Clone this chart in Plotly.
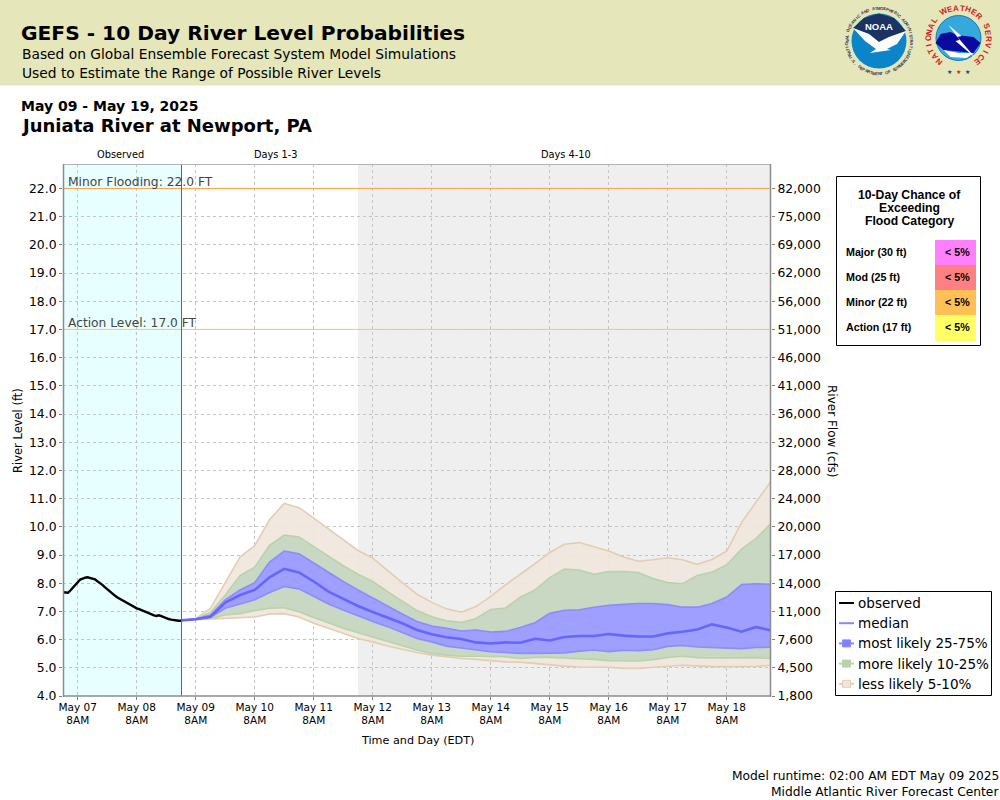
import plotly.graph_objects as go
import math
from datetime import datetime, timedelta

W, H = 1000, 800
L, R, T, B = 63, 771, 164, 696

# ---------- data ----------
obs_start = datetime(2025, 5, 7, 2)
observed = [7.68,7.66,7.66,7.74,7.84,7.95,8.06,8.13,8.16,8.20,8.21,8.19,8.17,8.14,8.07,8.02,7.94,7.86,7.78,7.70,
            7.63,7.57,7.50,7.45,7.38,7.34,7.30,7.23,7.19,7.15,7.11,7.08,7.04,7.01,6.97,6.94,6.90,6.86,6.84,6.86,
            6.83,6.79,6.76,6.73,6.71,6.69,6.68,6.67,6.67]
fc_start = datetime(2025, 5, 9, 2)
q95 = [6.68,6.74,7.11,8.00,8.93,9.33,10.25,10.83,10.68,10.31,9.92,9.54,9.16,
       8.89,8.45,8.02,7.61,7.32,7.09,6.97,7.17,7.53,7.94,8.30,8.69,9.09,9.38,9.44,9.28,
       9.14,8.93,8.78,8.83,8.90,8.83,8.67,8.84,9.14,10.15,10.89,11.62]
q90 = [6.68,6.74,6.96,7.58,8.27,8.57,9.34,9.71,9.64,9.30,8.97,8.62,8.32,
       8.06,7.70,7.35,7.03,6.81,6.67,6.61,6.75,7.07,7.12,7.50,7.76,8.20,8.50,8.47,8.32,
       8.41,8.41,8.38,8.17,8.02,7.98,8.27,8.40,8.65,9.21,9.59,10.12]
q75 = [6.68,6.74,6.87,7.41,7.76,8.02,8.75,9.14,9.04,8.71,8.38,8.06,7.76,
       7.47,7.17,6.91,6.64,6.48,6.40,6.30,6.34,6.27,6.29,6.43,6.60,6.93,7.04,7.06,7.15,
       7.22,7.25,7.28,7.28,7.24,7.15,7.15,7.28,7.51,7.95,7.98,7.96]
median = [6.68,6.72,6.81,7.31,7.58,7.76,8.21,8.51,8.38,8.06,7.70,7.43,7.19,
          6.98,6.77,6.58,6.34,6.19,6.08,6.02,5.90,5.86,5.90,5.89,6.03,5.97,6.09,6.13,6.13,
          6.20,6.14,6.11,6.11,6.22,6.28,6.36,6.54,6.43,6.28,6.45,6.32]
q25 = [6.68,6.72,6.79,7.11,7.26,7.41,7.67,7.88,7.80,7.53,7.26,7.05,6.84,
       6.64,6.46,6.26,6.04,5.92,5.77,5.70,5.63,5.57,5.54,5.51,5.51,5.51,5.53,5.59,5.63,
       5.57,5.62,5.61,5.64,5.76,5.79,5.74,5.72,5.72,5.68,5.72,5.73]
q10 = [6.68,6.72,6.75,6.87,6.92,7.03,7.11,7.13,6.99,6.78,6.58,6.40,6.24,
       6.08,5.92,5.78,5.63,5.51,5.45,5.41,5.41,5.41,5.39,5.33,5.37,5.37,5.35,5.32,5.30,
       5.25,5.24,5.24,5.29,5.37,5.41,5.36,5.35,5.35,5.36,5.36,5.33]
q05 = [6.68,6.70,6.73,6.75,6.78,6.80,6.91,6.92,6.80,6.58,6.40,6.22,6.04,
       5.92,5.77,5.66,5.54,5.45,5.39,5.33,5.30,5.25,5.21,5.20,5.15,5.12,5.06,5.03,5.03,
       5.02,4.98,4.98,5.02,5.05,5.09,5.07,5.04,5.04,5.05,5.05,5.09]

stage_ticks = [float(v) for v in range(4, 23)]
flow_labels = ["1,800","4,500","7,600","11,000","14,000","17,000","20,000","24,000","28,000","32,000",
               "36,000","41,000","46,000","51,000","56,000","62,000","69,000","75,000","82,000"]
day_labels = ["May 07","May 08","May 09","May 10","May 11","May 12","May 13","May 14","May 15","May 16","May 17","May 18"]
day_ticks = [datetime(2025, 5, 7 + i, 8) for i in range(12)]
table_rows = [("Major (30 ft)", "< 5%", "#FF80FF"), ("Mod (25 ft)", "< 5%", "#FF8080"),
              ("Minor (22 ft)", "< 5%", "#FFC055"), ("Action (17 ft)", "< 5%", "#FFFF66")]
legend_rows = ["observed", "median", "most likely 25-75%", "more likely 10-25%", "less likely 5-10%"]

# ---------- helpers ----------
def px(x): return (x - L) / (R - L)
def py(y): return (B - y) / (B - T)
Y0 = 4.0
Y1 = 4.0 + (B - T) / 28.2
x0 = datetime(2025, 5, 7, 2)
x1 = datetime(2025, 5, 19, 2)
split = datetime(2025, 5, 9, 2)
grey = datetime(2025, 5, 12, 2)

fc_x = [fc_start + timedelta(hours=6 * i) for i in range(len(median))]
obs_x = [obs_start + timedelta(hours=i) for i in range(len(observed))]

fig = go.Figure()
def band(lo, hi, line, fill, name):
    fig.add_trace(go.Scatter(x=fc_x, y=lo, mode="lines", line=dict(color=line, width=1.6), showlegend=False, hoverinfo="skip"))
    fig.add_trace(go.Scatter(x=fc_x, y=hi, mode="lines", line=dict(color=line, width=1.6), fill="tonexty", fillcolor=fill,
                             name=name, showlegend=False))
band(q05, q95, "#E3CDB2", "rgba(240,231,220,0.9)", legend_rows[4])
band(q10, q90, "#BAD2AC", "#C9D8C2", legend_rows[3])
band(q25, q75, "#8C8CFF", "#9F9FFF", legend_rows[2])
fig.add_trace(go.Scatter(x=fc_x, y=median, mode="lines", line=dict(color="#6666FF", width=2.6), name=legend_rows[1], showlegend=False))
fig.add_trace(go.Scatter(x=obs_x, y=observed, mode="lines", line=dict(color="black", width=2.4), name=legend_rows[0], showlegend=False))
# carries the flow axis on the right
fig.add_trace(go.Scatter(x=[x0], y=[stage_ticks[0]], yaxis="y2", mode="markers", marker=dict(opacity=0), showlegend=False, hoverinfo="skip"))

shapes = []
annos = []
def text(x, y, s, size=12, color="black", anchor="left", family="DejaVu Sans", bold=False, angle=0):
    annos.append(dict(xref="paper", yref="paper", x=px(x), y=py(y), text=f"<b>{s}</b>" if bold else s, showarrow=False,
                      xanchor=anchor, yanchor="middle", align=anchor, textangle=angle,
                      font=dict(family=family, size=size, color=color), borderpad=0))
def rect(x0_, y0_, x1_, y1_, fill="rgba(0,0,0,0)", line=None, lw=1, layer="above"):
    shapes.append(dict(type="rect", xref="paper", yref="paper", x0=px(x0_), x1=px(x1_), y0=py(y0_), y1=py(y1_),
                       fillcolor=fill, line=dict(color=line or "rgba(0,0,0,0)", width=lw if line else 0), layer=layer))
def seg(x0_, y0_, x1_, y1_, color, lw=1):
    shapes.append(dict(type="line", xref="paper", yref="paper", x0=px(x0_), x1=px(x1_), y0=py(y0_), y1=py(y1_),
                       line=dict(color=color, width=lw)))
def circ(cx, cy, r, fill, line=None, lw=1):
    shapes.append(dict(type="circle", xref="paper", yref="paper", x0=px(cx - r), x1=px(cx + r), y0=py(cy - r), y1=py(cy + r),
                       fillcolor=fill, line=dict(color=line or "rgba(0,0,0,0)", width=lw if line else 0)))
def path(pts, fill, line=None, lw=1):
    d = "M " + " L ".join(f"{px(a):.5f},{py(b):.5f}" for a, b in pts) + " Z"
    shapes.append(dict(type="path", xref="paper", yref="paper", path=d, fillcolor=fill,
                       line=dict(color=line or "rgba(0,0,0,0)", width=lw if line else 0)))

# header band
rect(0, 0, W, 85.5, fill="#E5E6B9", layer="below")
text(20, 33, "GEFS - 10 Day River Level Probabilities", size=20.2, bold=True)
text(20.5, 54, "Based on Global Ensemble Forecast System Model Simulations", size=13.8)
text(20.5, 73, "Used to Estimate the Range of Possible River Levels", size=13.8)
text(20, 105.5, "May 09 - May 19, 2025", size=14, bold=True)
text(20, 125.5, "Juniata River at Newport, PA", size=18, bold=True)
text(120, 154, "Observed", size=9.8, anchor="center")
text(276, 154, "Days 1-3", size=9.8, anchor="center")
text(566, 154, "Days 4-10", size=9.8, anchor="center")
text(417, 740, "Time and Day (EDT)", size=11.2, anchor="center")
text(18, 431, "River Level (ft)", size=11.5, anchor="center", angle=-90)
text(832, 431, "River Flow (cfs)", size=12, anchor="center", angle=90)
text(1000.5, 775.5, "Model runtime: 02:00 AM EDT May 09 2025", size=12.25, anchor="right")
text(1000.5, 791.5, "Middle Atlantic River Forecast Center", size=12.25, anchor="right")

# shaded periods and level lines (data-scale)
shapes.append(dict(type="rect", xref="x", yref="paper", x0=x0, x1=split, y0=0, y1=1, fillcolor="#E8FFFF", line=dict(width=0), layer="below"))
shapes.append(dict(type="rect", xref="x", yref="paper", x0=grey, x1=x1, y0=0, y1=1, fillcolor="#EFEFEF", line=dict(width=0), layer="below"))
shapes.append(dict(type="line", xref="paper", yref="y", x0=0, x1=1, y0=22, y1=22, line=dict(color="#FFA040", width=1)))
shapes.append(dict(type="line", xref="paper", yref="y", x0=0, x1=1, y0=17, y1=17, line=dict(color="#FFCC44", width=1)))
seg(181.5, T, 181.5, B, "#FF2020", 1)
text(67, 181.5, "Minor Flooding: 22.0 FT", size=12.3, color="#444444")
text(67, 322.5, "Action Level: 17.0 FT", size=12.25, color="#444444")

# plot frame
seg(L, T + 0.5, R, T + 0.5, "#B4B4B4", 1)
seg(L + 0.5, T, L + 0.5, B + 1, "#8C8C8C", 1.5)
seg(R - 0.5, T, R - 0.5, B + 1, "#8C8C8C", 1.5)
seg(L, B, R, B, "#8C8C8C", 1.5)

# flood category table
rect(836.5, 176.5, 980.5, 345.5, fill="white", line="black", lw=1)
text(909.5, 195, "10-Day Chance of", size=12.2, anchor="center", family="Liberation Sans", bold=True)
text(909.5, 208, "Exceeding", size=12.2, anchor="center", family="Liberation Sans", bold=True)
text(909.5, 221, "Flood Category", size=12.2, anchor="center", family="Liberation Sans", bold=True)
for i, (lab, val, col) in enumerate(table_rows):
    top = 240 + 25 * i
    rect(935, top, 976, top + 25 + (1 if i == 3 else 0), fill=col)
    text(845, top + 11.5, lab, size=10.7, family="Liberation Sans", bold=True)
    text(970.5, top + 11.5, val, size=10.7, anchor="right", family="Liberation Sans", bold=True)

# legend
rect(835.5, 591.5, 991.5, 695.5, fill="white", line="black", lw=1)
leg_cols = [("black", None), ("#8888FF", None), ("#8888FF", "#8888FF"), ("#BAD2AC", "#BAD2AC"), ("#E3CDB2", "#F0E7DC")]
for i, (lab, (lc, fc)) in enumerate(zip(legend_rows, leg_cols)):
    y = 603 + 20.2 * i
    seg(839, y, 854, y, lc, 2)
    if fc:
        rect(842.5, y - 3.5, 850.5, y + 3.5, fill=fc if i != 2 else "#7F7FFF", line=lc)
    text(856.5, y, lab, size=13.55)

# ---------- logos (approximate) ----------
nx, ny = 879, 41
circ(nx, ny, 27.5, "#0A85C9")
path([(nx-26, ny-13), (nx-15, ny-23), (nx, ny-27.5), (nx+15, ny-23), (nx+27, ny-10), (nx+10, ny-4), (nx, ny+1), (nx-10, ny-7)], "#1C3263")
path([(nx-26, ny-13), (nx-10, ny-7), (nx, ny+1), (nx+10, ny-4), (nx+27, ny-10), (nx+18, ny+3), (nx+8, ny+8), (nx+12, ny+9), (nx-9, ny+12), (nx-3, ny+8), (nx-14, ny)], "white")
text(nx, ny-15, "NOAA", size=9.5, color="white", anchor="center", family="Liberation Sans", bold=True)
s1 = "NATIONAL OCEANIC AND ATMOSPHERIC ADMINISTRATION"
for i, ch in enumerate(s1):
    a = -115 + 230 * i / (len(s1) - 1)
    r = 32.5
    text(nx + r * math.sin(math.radians(a)), ny - r * math.cos(math.radians(a)), ch, size=4.2, color="#333355", anchor="center", angle=a, family="Liberation Sans", bold=True)
s2 = "U.S. DEPARTMENT OF COMMERCE"
for i, ch in enumerate(s2):
    a = 240 - 120 * i / (len(s2) - 1)
    r = 32.5
    text(nx + r * math.sin(math.radians(a)), ny - r * math.cos(math.radians(a)), ch, size=4.2, color="#333355", anchor="center", angle=a - 180, family="Liberation Sans", bold=True)

wx, wy = 958.5, 38
circ(wx, wy, 22.5, "#35A8DC", line="#1C75BC", lw=1)
path([(wx-23, wy+5), (wx-18, wy-4), (wx-8, wy-6), (wx-2, wy-3), (wx+15, wy-1), (wx+22, wy+5), (wx+15, wy+15), (wx-15, wy+12)], "#0A0A9E")
path([(wx-15, wy+12), (wx, wy+15), (wx+15, wy+15), (wx+8, wy+20), (wx-8, wy+19)], "white")
path([(wx-10, wy-13), (wx+3, wy-2), (wx-1, wy-1), (wx+17, wy+20), (wx-3, wy+3), (wx+1, wy+2)], "white")
s3 = "NATIONAL WEATHER SERVICE"
for i, ch in enumerate(s3):
    a = -140 + 282 * i / (len(s3) - 1)
    r = 30
    text(wx + r * math.sin(math.radians(a)), wy - r * math.cos(math.radians(a)), ch, size=8, color="#CC2222", anchor="center", angle=a, family="Liberation Sans", bold=True)
for dx, col in [(-8.5, "#1C3A8C"), (0, "#CC2222"), (8.5, "#1C3A8C")]:
    text(wx + dx, 71, "★", size=6, color=col, anchor="center")

axfont = dict(family="DejaVu Sans", size=12.4, color="black")
fig.update_layout(
    width=W, height=H, autosize=False, margin=dict(l=L, r=W - R, t=T, b=H - B), paper_bgcolor="white", plot_bgcolor="rgba(0,0,0,0)",
    showlegend=False, shapes=shapes, annotations=annos,
    xaxis=dict(range=[x0, x1], type="date", tickmode="array", tickvals=day_ticks,
               ticktext=[f"{d}<br>8AM" for d in day_labels], tickfont=dict(family="DejaVu Sans", size=10.5, color="black"),
               ticks="outside", ticklen=3, tickcolor="#808080", showgrid=True, gridcolor="#C4C4C4", griddash="3px,3px", gridwidth=1,
               showline=False, zeroline=False, tickangle=0, layer="below traces", ticklabelstandoff=-2),
    yaxis=dict(range=[Y0, Y1], tickmode="array", tickvals=stage_ticks, ticktext=[f"{v:.1f}" for v in stage_ticks], tickfont=axfont,
               ticks="outside", ticklen=3, tickcolor="#808080", showgrid=True, gridcolor="#C4C4C4", griddash="3px,3px", gridwidth=1,
               showline=False, zeroline=False, layer="below traces"),
    yaxis2=dict(range=[Y0, Y1], overlaying="y", side="right", tickmode="array", tickvals=stage_ticks, ticktext=flow_labels, tickfont=axfont,
                ticks="outside", ticklen=3, tickcolor="#808080", showgrid=False, showline=False, zeroline=False),
)

fig.write_html("out.html", config=dict(displayModeBar=False),
               post_script="document.body.style.margin='0';document.documentElement.style.overflow='hidden';")
